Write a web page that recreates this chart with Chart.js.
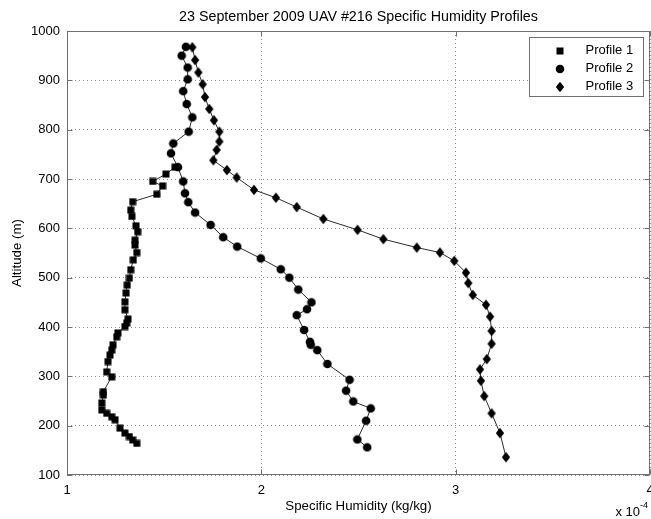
<!DOCTYPE html>
<html><head><meta charset="utf-8">
<script src="https://cdn.jsdelivr.net/npm/chart.js@4"></script>
<style>html,body{margin:0;padding:0;background:#fff}canvas{display:block}</style>
</head><body>
<canvas id="c" width="651" height="519"></canvas>
<script>
const TITLE = '23 September 2009 UAV #216 Specific Humidity Profiles';
const X_LABEL = 'Specific Humidity (kg/kg)';
const Y_LABEL = 'Altitude (m)';
const X_EXPONENT = '-4';
const X_TICKS = [1, 2, 3, 4];
const Y_TICKS = [100, 200, 300, 400, 500, 600, 700, 800, 900, 1000];
const SERIES_NAMES = ['Profile 1', 'Profile 2', 'Profile 3'];

// humidity in units of 1e-4 kg/kg, altitude in m
const p1Humidity = [1.359,1.338,1.321,1.298,1.273,1.247,1.230,1.204,1.179,1.179,1.187,1.187,1.230,1.204,1.211,1.221,1.230,1.237,1.256,1.262,1.298,1.307,1.314,1.298,1.298,1.304,1.310,1.321,1.328,1.341,1.359,1.350,1.350,1.364,1.355,1.334,1.328,1.338,1.462,1.492,1.441,1.509,1.556];
const p1Altitude = [164,171,178,185,195,212,218,225,232,246,262,269,299,309,330,343,353,364,380,388,401,408,416,435,451,469,485,499,516,536,551,566,576,593,605,624,637,654,669,686,695,710,724];

const p2Humidity = [2.545,2.494,2.539,2.563,2.473,2.436,2.454,2.340,2.288,2.254,2.250,2.220,2.182,2.235,2.258,2.190,2.144,2.100,1.997,1.876,1.804,1.739,1.659,1.624,1.607,1.598,1.571,1.535,1.547,1.626,1.645,1.616,1.598,1.621,1.621,1.590,1.612];
const p2Altitude = [156,172,210,235,249,271,293,325,353,364,370,394,424,436,450,476,500,517,539,563,582,607,632,653,671,695,724,752,772,796,825,852,878,902,926,950,968];

const p3Humidity = [3.259,3.228,3.185,3.147,3.130,3.125,3.160,3.185,3.185,3.177,3.156,3.088,3.065,3.053,2.993,2.919,2.800,2.628,2.495,2.319,2.182,2.075,1.962,1.873,1.823,1.753,1.770,1.784,1.784,1.756,1.732,1.710,1.698,1.676,1.659,1.645];
const p3Altitude = [136,185,225,260,291,314,335,366,392,421,445,465,489,510,534,551,561,578,597,619,643,662,678,703,718,738,759,776,796,819,842,866,892,916,941,967];

function makeMarker(kind) {
  const cv = document.createElement('canvas');
  const g = cv.getContext('2d');
  if (kind === 'square') {
    cv.width = 8; cv.height = 8;
    g.fillStyle = '#000'; g.fillRect(0.5, 0.5, 7, 7);
  } else if (kind === 'circle') {
    cv.width = 10; cv.height = 10;
    g.fillStyle = '#000'; g.beginPath(); g.arc(5, 5, 4.3, 0, Math.PI * 2); g.fill();
  } else {
    cv.width = 10; cv.height = 12;
    g.fillStyle = '#000'; g.beginPath();
    g.moveTo(5, 0.8); g.lineTo(9.2, 6); g.lineTo(5, 11.2); g.lineTo(0.8, 6); g.closePath(); g.fill();
  }
  return cv;
}
const markers = [makeMarker('square'), makeMarker('circle'), makeMarker('diamond')];

function pts(xs, ys) { return xs.map((v, i) => ({x: v, y: ys[i]})); }
const seriesX = [p1Humidity, p2Humidity, p3Humidity];
const seriesY = [p1Altitude, p2Altitude, p3Altitude];

const FONT = '"Liberation Sans", Arial, Helvetica, sans-serif';
Chart.defaults.font.family = FONT;
Chart.defaults.font.size = 13;
Chart.defaults.color = '#000';

const BOX = '#6f6f6f';

const frame = {
  id: 'frame',
  afterDatasetsDraw(chart) {
    const {ctx, chartArea: a, scales: {x, y}} = chart;
    ctx.save();
    ctx.strokeStyle = BOX; ctx.lineWidth = 1;
    const L = Math.round(a.left) + 0.5, R = Math.round(a.right) - 0.5;
    const T = Math.round(a.top) + 0.5, B = Math.round(a.bottom) - 0.5;
    ctx.strokeRect(L, T, R - L, B - T);
    const tl = 5;
    ctx.beginPath();
    x.ticks.forEach(t => {
      const px = Math.round(x.getPixelForValue(t.value)) + 0.5;
      ctx.moveTo(px, B); ctx.lineTo(px, B - tl);
      ctx.moveTo(px, T); ctx.lineTo(px, T + tl);
    });
    y.ticks.forEach(t => {
      const py = Math.round(y.getPixelForValue(t.value)) + 0.5;
      ctx.moveTo(L, py); ctx.lineTo(L + tl, py);
      ctx.moveTo(R, py); ctx.lineTo(R - tl, py);
    });
    ctx.stroke();
    ctx.restore();
  },
  afterDraw(chart) {
    const {ctx, chartArea: a} = chart;
    ctx.save();
    // title
    ctx.fillStyle = '#000';
    ctx.font = '14.3px ' + FONT;
    ctx.textAlign = 'center'; ctx.textBaseline = 'alphabetic';
    ctx.fillText(TITLE, (a.left + a.right) / 2, 20.5);
    // exponent
    ctx.textAlign = 'right'; ctx.textBaseline = 'alphabetic';
    ctx.font = '13px ' + FONT;
    ctx.fillText('x 10', a.right - 10, 516);
    ctx.textAlign = 'left';
    ctx.font = '9px ' + FONT;
    ctx.fillText(X_EXPONENT, a.right - 10, 508);
    // legend
    const lw = 114, lh = 59;
    const lx = Math.round(a.right - 7 - lw) + 0.5, ly = Math.round(a.top + 6) + 0.5;
    ctx.fillStyle = '#fff';
    ctx.fillRect(lx, ly, lw, lh);
    ctx.strokeStyle = BOX; ctx.lineWidth = 1;
    ctx.strokeRect(lx, ly, lw, lh);
    ctx.font = '13px ' + FONT;
    ctx.textAlign = 'left'; ctx.textBaseline = 'middle';
    chart.data.datasets.forEach((ds, i) => {
      const cy = ly + 13 + i * 18;
      const m = ds.pointStyle;
      ctx.drawImage(m, Math.round(lx + 30 - m.width / 2), Math.round(cy - m.height / 2));
      ctx.fillStyle = '#000';
      ctx.fillText(ds.label, lx + 56, cy);
    });
    ctx.restore();
  }
};

new Chart(document.getElementById('c'), {
  type: 'scatter',
  data: {
    datasets: SERIES_NAMES.map((name, i) => ({
      label: name,
      data: pts(seriesX[i], seriesY[i]),
      showLine: true,
      borderColor: '#2a2a2a',
      borderWidth: 1,
      pointStyle: markers[i],
      pointRadius: 5,
      pointHoverRadius: 5,
      backgroundColor: '#000'
    }))
  },
  options: {
    responsive: false,
    animation: false,
    devicePixelRatio: 1,
    layout: {autoPadding: false, padding: {top: 31, right: 1, left: 0, bottom: 0}},
    plugins: {legend: {display: false}, title: {display: false}, tooltip: {enabled: false}},
    scales: {
      x: {
        type: 'linear', min: 1, max: 4,
        afterBuildTicks: s => { s.ticks = X_TICKS.map(v => ({value: v})); },
        afterFit: s => { s.height = 44; s.paddingLeft = 0; s.paddingRight = 0; },
        ticks: {padding: 8, font: {size: 13}, color: '#000', callback: v => String(v), maxRotation: 0},
        grid: {color: '#8a8a8a', lineWidth: 1, drawTicks: false},
        border: {display: false, dash: [1, 3]},
        title: {display: true, text: X_LABEL, font: {size: 13.3}, color: '#000', padding: {top: 0, bottom: 5}}
      },
      y: {
        type: 'linear', min: 100, max: 1000,
        afterBuildTicks: s => { s.ticks = Y_TICKS.map(v => ({value: v})); },
        afterFit: s => { s.width = 67; s.paddingTop = 0; s.paddingBottom = 0; },
        ticks: {padding: 7, font: {size: 13}, color: '#000', callback: v => String(v)},
        grid: {color: '#8a8a8a', lineWidth: 1, drawTicks: false},
        border: {display: false, dash: [1, 3]},
        title: {display: true, text: Y_LABEL, font: {size: 13.3}, color: '#000', padding: {top: 9, bottom: 0}}
      }
    }
  },
  plugins: [frame]
});
</script>
</body></html>
